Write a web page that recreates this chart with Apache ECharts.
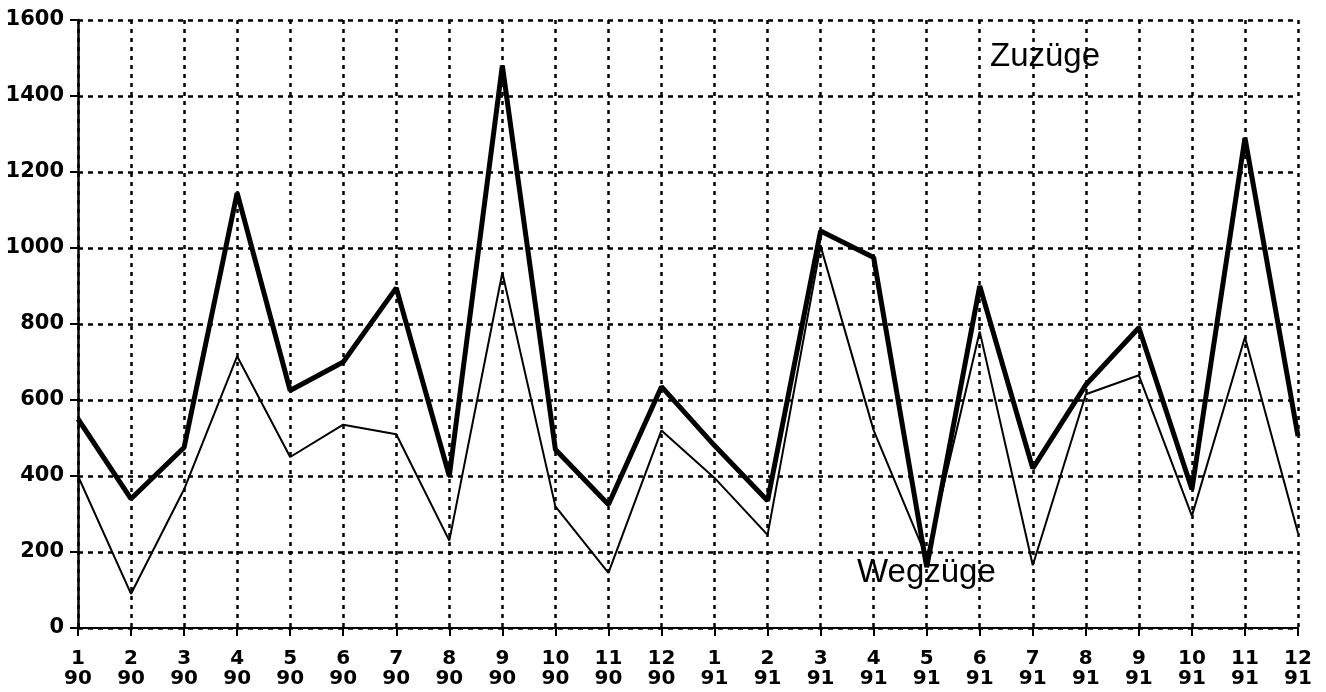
<!DOCTYPE html>
<html>
<head>
<meta charset="utf-8">
<script src="https://cdn.jsdelivr.net/npm/echarts@6/dist/echarts.min.js"></script>
<style>
html,body{margin:0;padding:0;background:#fff;}
#c{width:1326px;height:692px;}
</style>
</head>
<body>
<div id="c"></div>
<script>
const months = ['1','2','3','4','5','6','7','8','9','10','11','12','1','2','3','4','5','6','7','8','9','10','11','12'];
const years  = ['90','90','90','90','90','90','90','90','90','90','90','90','91','91','91','91','91','91','91','91','91','91','91','91'];
const zuzuege = [550,340,475,1145,625,700,895,400,1480,470,325,635,480,335,1045,975,160,900,420,640,790,365,1290,505];
const wegzuege = [400,90,365,715,450,535,510,230,935,320,145,520,395,245,1005,520,185,780,165,615,665,295,765,250];
const yTicks = [0,200,400,600,800,1000,1200,1400,1600];
const categories = months.map((m, i) => m + '\n' + years[i]);

const chart = echarts.init(document.getElementById('c'));
chart.setOption({
  animation: false,
  backgroundColor: '#fff',
  grid: { left: 78, right: 28, top: 20, bottom: 64 },
  xAxis: {
    type: 'category',
    data: categories,
    boundaryGap: false,
    axisLine: { lineStyle: { color: '#000', width: 2 } },
    axisTick: { show: true, length: 8, lineStyle: { color: '#000', width: 2 } },
    axisLabel: { color: '#000', fontFamily: 'DejaVu Sans', fontWeight: 'bold', fontSize: 20, lineHeight: 20, margin: 21, interval: 0 },
    splitLine: { show: true, lineStyle: { color: '#000', width: 2.5, type: [4, 5] } }
  },
  yAxis: {
    type: 'value',
    min: yTicks[0], max: yTicks[yTicks.length - 1], interval: yTicks[1] - yTicks[0],
    axisLine: { show: true, lineStyle: { color: '#000', width: 2.5 } },
    axisTick: { show: true, length: 8, lineStyle: { color: '#000', width: 2 } },
    axisLabel: { color: '#000', fontFamily: 'DejaVu Sans', fontWeight: 'bold', fontSize: 21, margin: 14, formatter: v => String(v) },
    splitLine: { show: true, lineStyle: { color: '#000', width: 2.5, type: [5, 5] } }
  },
  series: [
    { name: 'Zuzüge', type: 'line', data: zuzuege, symbol: 'none', lineStyle: { color: '#000', width: 5 }, z: 3 },
    { name: 'Wegzüge', type: 'line', data: wegzuege, symbol: 'none', lineStyle: { color: '#000', width: 2 }, z: 2 }
  ],
  graphic: [
    { type: 'text', left: 990, top: 40, z: 10, style: { text: 'Zuzüge', fill: '#000', font: '33px "Liberation Sans"' } },
    { type: 'text', left: 857, top: 556, z: 10, style: { text: 'Wegzüge', fill: '#000', font: '33px "Liberation Sans"' } }
  ]
});
</script>
</body>
</html>
